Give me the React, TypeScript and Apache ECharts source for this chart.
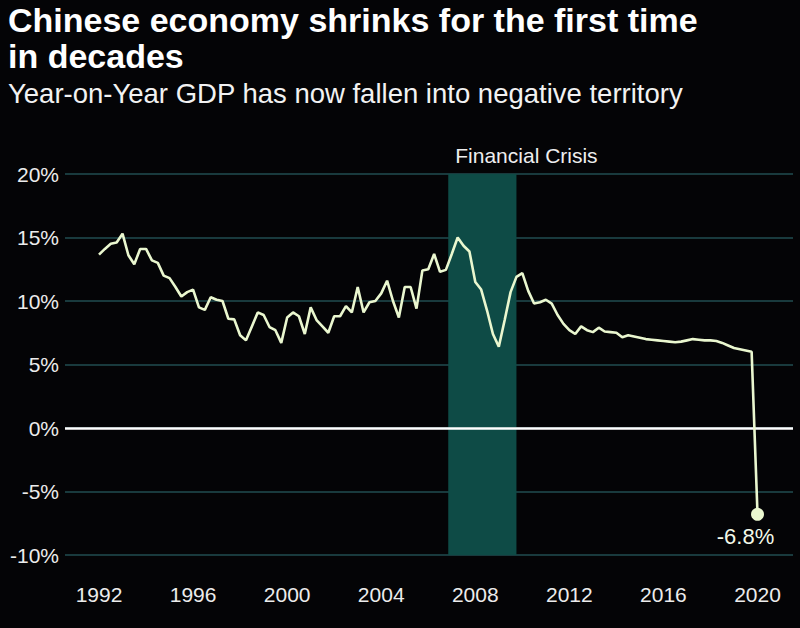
import React, { useEffect, useRef } from "react";
import * as echarts from "echarts";

// Quarterly year-on-year GDP growth, 1992 Q1 .. 2020 Q1 (%)
const START_YEAR = 1992;
const gdpYoY: number[] = [
  13.65, 14.1, 14.5, 14.6, // 1992
  15.3, 13.6, 12.9, 14.1, // 1993
  14.1, 13.2, 13.0, 12.0, // 1994
  11.8, 11.1, 10.35, 10.7, // 1995
  10.9, 9.5, 9.3, 10.3, // 1996
  10.1, 10.0, 8.6, 8.55, // 1997
  7.3, 6.9, 8.0, 9.1, // 1998
  8.9, 7.95, 7.7, 6.7, // 1999
  8.7, 9.1, 8.8, 7.4, // 2000
  9.5, 8.5, 8.0, 7.5, // 2001
  8.8, 8.8, 9.6, 9.1, // 2002
  11.1, 9.1, 9.9, 10.0, // 2003
  10.6, 11.6, 10.0, 8.7, // 2004
  11.1, 11.1, 9.4, 12.4, // 2005
  12.5, 13.7, 12.3, 12.45, // 2006
  13.7, 15.0, 14.35, 13.9, // 2007
  11.5, 10.9, 9.25, 7.4, // 2008
  6.4, 8.5, 10.7, 11.9, // 2009
  12.2, 10.8, 9.8, 9.9, // 2010
  10.1, 9.8, 8.9, 8.2, // 2011
  7.7, 7.4, 8.0, 7.7, // 2012
  7.55, 7.9, 7.6, 7.55, // 2013
  7.5, 7.15, 7.3, 7.2, // 2014
  7.1, 7.0, 6.95, 6.9, // 2015
  6.85, 6.8, 6.75, 6.8, // 2016
  6.9, 7.0, 6.95, 6.9, // 2017
  6.9, 6.85, 6.7, 6.5, // 2018
  6.3, 6.2, 6.1, 6.0, // 2019
  -6.8, // 2020 Q1
];

const yearTicks: number[] = [1992, 1996, 2000, 2004, 2008, 2012, 2016, 2020];
const crisisSpan: [number, number] = [2006.85, 2009.75];
const crisisLabel = "Financial Crisis";
const titleText = "Chinese economy shrinks for the first time\nin decades";
const subtitleText = "Year-on-Year GDP has now fallen into negative territory";

const FONT = "'Liberation Sans', Arial, Helvetica, sans-serif";

export default function App() {
  const ref = useRef<HTMLDivElement>(null);

  useEffect(() => {
    document.body.style.margin = "0";
    document.body.style.background = "#040406";
    if (!ref.current) return;
    const chart = echarts.init(ref.current, undefined, { renderer: "svg" });

    const lineData = gdpYoY.map((v, i) => [START_YEAR + i * 0.25, v]);
    const last = lineData[lineData.length - 1];

    chart.setOption({
      animation: false,
      backgroundColor: "#040406",
      textStyle: { fontFamily: FONT },
      title: [
        {
          text: titleText,
          left: 8,
          top: 2,
          padding: 0,
          textStyle: {
            color: "#ffffff",
            fontSize: 34,
            fontWeight: "bold",
            lineHeight: 36,
            fontFamily: FONT,
          },
        },
        {
          text: subtitleText,
          left: 8,
          top: 78,
          padding: 0,
          textStyle: {
            color: "#f2f2f2",
            fontSize: 27.5,
            fontWeight: "normal",
            lineHeight: 30,
            fontFamily: FONT,
          },
        },
      ],
      grid: { left: 65, right: 7, top: 174, bottom: 73 },
      xAxis: {
        type: "value",
        min: 1990.554,
        max: 2021.509,
        axisLine: { show: false },
        axisTick: { show: false },
        splitLine: { show: false },
        axisLabel: {
          customValues: yearTicks,
          formatter: (v: number) => String(Math.round(v)),
          color: "#ececec",
          fontSize: 21,
          margin: 29,
          fontFamily: FONT,
        },
      },
      yAxis: {
        type: "value",
        min: -10,
        max: 20,
        interval: 5,
        axisLine: { show: false },
        axisTick: { show: false },
        axisLabel: {
          formatter: (v: number) => `${v}%`,
          color: "#ececec",
          fontSize: 21,
          margin: 6,
          fontFamily: FONT,
        },
        splitLine: { lineStyle: { color: "#214d50", width: 1.6 } },
      },
      series: [
        {
          type: "line",
          data: lineData,
          showSymbol: false,
          symbol: "none",
          lineStyle: { color: "#eaf7cf", width: 2.6 },
          z: 5,
          markArea: {
            silent: true,
            itemStyle: { color: "#0e4b46" },
            label: {
              show: true,
              position: [7, -19],
              align: "left",
              verticalAlign: "middle",
              color: "#eeeeee",
              fontSize: 21,
              fontFamily: FONT,
            },
            data: [[{ xAxis: crisisSpan[0], name: crisisLabel }, { xAxis: crisisSpan[1] }]],
          },
          markLine: {
            silent: true,
            symbol: "none",
            label: { show: false },
            lineStyle: { color: "#ffffff", width: 2.6, type: "solid" },
            data: [{ yAxis: 0 }],
            z: 4,
          },
        },
        {
          type: "scatter",
          data: [last],
          symbol: "circle",
          symbolSize: 13,
          itemStyle: { color: "#eaf7cf", opacity: 1 },
          z: 6,
          label: {
            show: true,
            position: "bottom",
            offset: [-12, 0],
            formatter: () => `${last[1]}%`,
            color: "#f2f8e8",
            fontSize: 22,
            fontFamily: FONT,
          },
        },
      ],
    });

    return () => chart.dispose();
  }, []);

  return (
    <div
      ref={ref}
      style={{ position: "fixed", left: 0, top: 0, width: 800, height: 628, background: "#040406" }}
    />
  );
}
